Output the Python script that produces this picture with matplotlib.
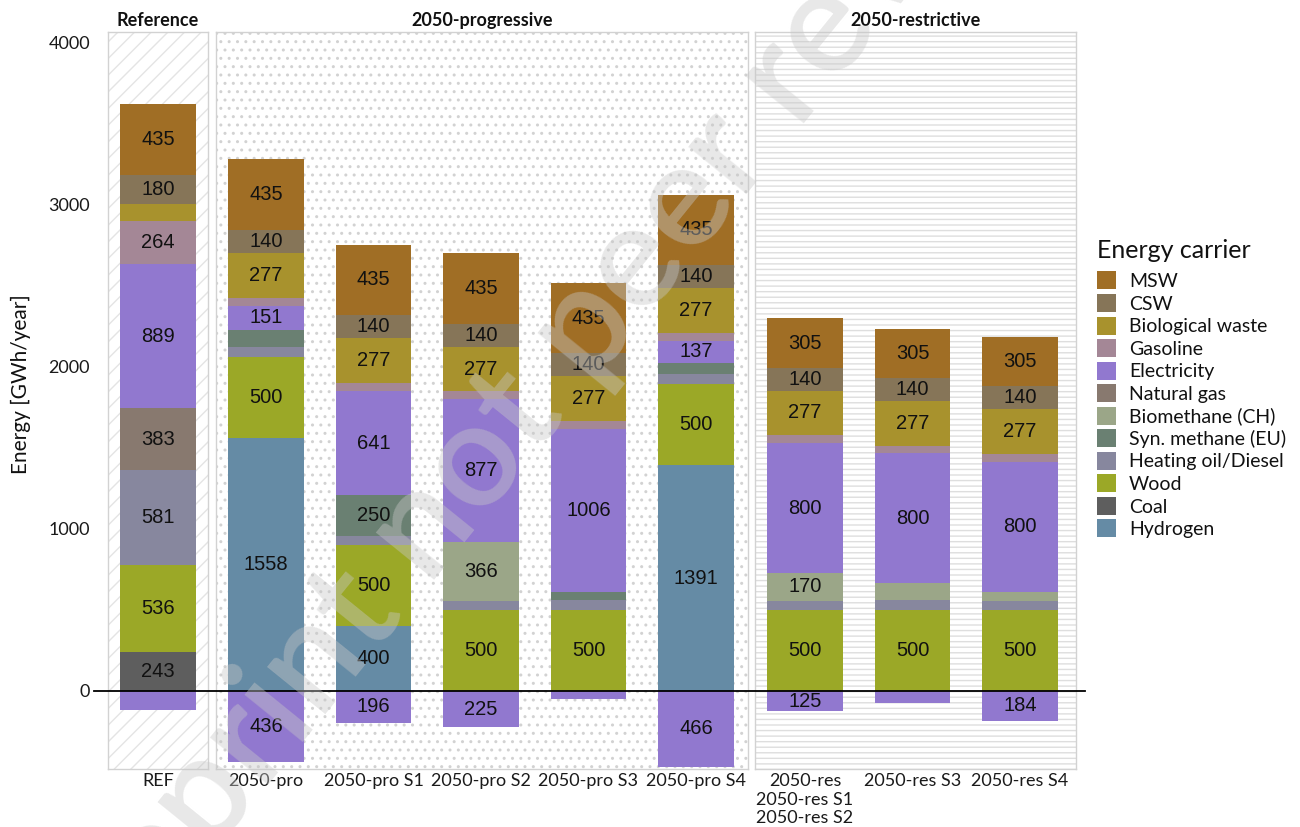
import matplotlib
matplotlib.use("Agg")
import matplotlib.pyplot as plt
import matplotlib.transforms as mtransforms
from matplotlib.patches import Patch, Rectangle
from matplotlib.lines import Line2D
import numpy as np

# ---------------------------------------------------------------- data
scenarios = ["REF", "2050-pro", "2050-pro S1", "2050-pro S2", "2050-pro S3",
             "2050-pro S4", "2050-res\n2050-res S1\n2050-res S2",
             "2050-res S3", "2050-res S4"]
groups = ["Reference", "2050-progressive", "2050-progressive",
          "2050-progressive", "2050-progressive", "2050-progressive",
          "2050-restrictive", "2050-restrictive", "2050-restrictive"]
group_titles = ["Reference", "2050-progressive", "2050-restrictive"]

# energy carriers, GWh/year (stacked bottom -> top)
hydrogen = [0, 1558, 400, 0, 0, 1391, 0, 0, 0]
coal = [243, 0, 0, 0, 0, 0, 0, 0, 0]
wood = [536, 500, 500, 500, 500, 500, 500, 500, 500]
heating_oil = [581, 62, 58, 55, 60, 62, 57, 60, 57]
syn_methane = [0, 105, 250, 0, 50, 70, 0, 0, 0]
biomethane = [0, 0, 0, 366, 0, 0, 170, 104, 56]
natural_gas = [383, 0, 0, 0, 0, 0, 0, 0, 0]
electricity = [889, 151, 641, 877, 1006, 137, 800, 800, 800]
gasoline = [264, 49, 50, 48, 48, 48, 48, 48, 48]
bio_waste = [105, 277, 277, 277, 277, 277, 277, 277, 277]
csw = [180, 140, 140, 140, 140, 140, 140, 140, 140]
msw = [435, 435, 435, 435, 435, 435, 305, 305, 305]
# electricity exported (negative contribution)
electricity_export = [-115, -436, -196, -225, -50, -466, -125, -75, -184]

carriers = ["Hydrogen", "Coal", "Wood", "Heating oil/Diesel",
            "Syn. methane (EU)", "Biomethane (CH)", "Natural gas",
            "Electricity", "Gasoline", "Biological waste", "CSW", "MSW"]
carrier_values = [hydrogen, coal, wood, heating_oil, syn_methane, biomethane,
                  natural_gas, electricity, gasoline, bio_waste, csw, msw]
carrier_colors = ["#658ba5", "#5e5e5e", "#9ba827", "#87879e", "#6a8072",
                  "#9ba688", "#88796f", "#9178cf", "#a48796", "#a8922d",
                  "#867558", "#a06e25"]
color_of = dict(zip(carriers, carrier_colors))

LABEL_MIN = 120

# ---------------------------------------------------------------- layout
W, H = 1300, 827
fig = plt.figure(figsize=(W / 100, H / 100), dpi=100)

def fx(px):
    return px / W

def fy(py):
    return 1 - py / H

panel_px = {"Reference": (108, 208),
            "2050-progressive": (216, 748),
            "2050-restrictive": (755, 1076)}
top_px, bottom_px = 32, 769
unit_px = 107.5
ylim = (-481, 4062)

backgrounds = {"Reference": ("//", "#e4e4e4"),
               "2050-progressive": ("..", "#d2d2d2"),
               "2050-restrictive": ("---", "#dedede")}

lato = ["Lato", "DejaVu Sans"]
arial = ["Liberation Sans", "DejaVu Sans"]

axes = []
for gi, g in enumerate(group_titles):
    L, R = panel_px[g]
    ax = fig.add_axes([fx(L), fy(bottom_px), fx(R) - fx(L),
                       fy(top_px) - fy(bottom_px)])
    axes.append(ax)
    idx = [i for i, gg in enumerate(groups) if gg == g]
    x = np.arange(len(idx))
    ax.set_xlim(-0.465, -0.465 + (R - L) / unit_px)
    ax.set_ylim(*ylim)

    hatch, hcol = backgrounds[g]
    ax.patch.set_facecolor("white")
    bg = Rectangle((0, 0), 1, 1, transform=ax.transAxes, facecolor="white",
                   edgecolor=hcol, hatch=hatch, linewidth=0, zorder=0)
    ax.add_patch(bg)
    for s in ax.spines.values():
        s.set_color("#d2d2d2")
        s.set_linewidth(1.0)

    pos_bottom = np.zeros(len(idx))
    for name, vals in zip(carriers, carrier_values):
        v = np.array([vals[i] for i in idx], dtype=float)
        ax.bar(x, v, width=0.7, bottom=pos_bottom, color=color_of[name],
               linewidth=0, zorder=2)
        for xi, vi, bi in zip(x, v, pos_bottom):
            if vi >= LABEL_MIN:
                ax.text(xi, bi + vi / 2, f"{int(vi)}", ha="center",
                        va="center", fontsize=14.5, family=arial,
                        color="#111111", zorder=3)
        pos_bottom = pos_bottom + v

    neg = np.array([electricity_export[i] for i in idx], dtype=float)
    ax.bar(x, neg, width=0.7, bottom=0, color=color_of["Electricity"],
           linewidth=0, zorder=2)
    for xi, vi in zip(x, neg):
        if abs(vi) >= LABEL_MIN:
            ax.text(xi, vi / 2, f"{int(abs(vi))}", ha="center", va="center",
                    fontsize=14.5, family=arial, color="#111111", zorder=3)

    ax.set_xticks(x)
    ax.set_xticklabels([scenarios[i] for i in idx], family=lato,
                       fontsize=13, color="#1a1a1a", linespacing=1.2)
    ax.tick_params(axis="x", length=0, pad=3)
    ax.set_title(g, family=lato, fontweight="bold", fontsize=13,
                 color="#111111", pad=4)
    if gi == 0:
        ax.set_yticks([0, 1000, 2000, 3000, 4000])
        ax.set_yticklabels(["0", "1000", "2000", "3000", "4000"],
                           family=lato, fontsize=13, color="#1a1a1a")
        ax.tick_params(axis="y", length=0, pad=13)
        ax.set_ylabel("Energy [GWh/year]", family=lato, fontsize=15,
                      color="#111111")
        ax.yaxis.set_label_coords(-0.77, 0.522)
    else:
        ax.set_yticks([])

# zero line spanning all panels
trans = mtransforms.blended_transform_factory(fig.transFigure,
                                              axes[0].transData)
fig.add_artist(Line2D([fx(94), fx(1085)], [0, 0], transform=trans,
                      color="black", linewidth=1.3, zorder=5))

# legend
handles = [Patch(facecolor=color_of[c], edgecolor="none")
           for c in carriers[::-1]]
leg = fig.legend(handles, carriers[::-1], loc="upper left",
                 bbox_to_anchor=(fx(1097), fy(239)), frameon=False,
                 title="Energy carrier", title_fontsize=18,
                 handlelength=1.0, handleheight=1.05, labelspacing=0.2,
                 handletextpad=0.65, borderpad=0, borderaxespad=0,
                 alignment="left", prop={"family": lato, "size": 14})
leg._legend_box.sep += 4
leg.get_title().set_family(lato)
leg.get_title().set_color("#111111")
for t in leg.get_texts():
    t.set_color("#111111")

# diagonal watermark
fig.text(fx(592), fy(320), "Preprint not peer reviewed", rotation=51,
         rotation_mode="anchor", ha="center", va="center", fontsize=106,
         family=lato, fontweight="semibold", color="#c8c8c8", alpha=0.42,
         zorder=10)

fig.savefig("out.png", dpi=100)
